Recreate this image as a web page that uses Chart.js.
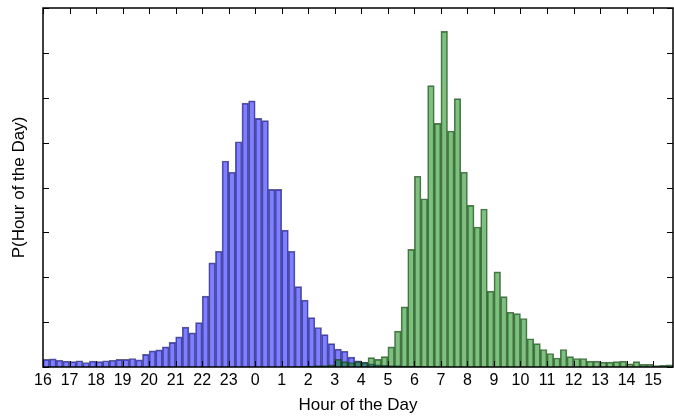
<!DOCTYPE html>
<html>
<head>
<meta charset="utf-8">
<script src="https://cdn.jsdelivr.net/npm/chart.js@4/dist/chart.umd.min.js"></script>
<style>
  html, body { margin: 0; padding: 0; background: #fff; }
  canvas { display: block; }
</style>
</head>
<body>
<canvas id="chart" width="674" height="417"></canvas>
<script>
// 15-minute bins starting at 16:00, running through 15:45 the next day
const firstHour = 16;
const binWidth = 0.25;
const hourLabels = [16, 17, 18, 19, 20, 21, 22, 23, 0, 1, 2, 3, 4, 5, 6, 7, 8, 9, 10, 11, 12, 13, 14, 15];

// blue histogram (values in % per bin)
const blueValues = [
  0.17, 0.18, 0.15, 0.13, 0.12, 0.14, 0.10, 0.13, 0.12, 0.14, 0.15, 0.17,
  0.17, 0.19, 0.16, 0.28, 0.36, 0.38, 0.45, 0.55, 0.67, 0.89, 0.76, 0.99,
  1.58, 2.32, 2.58, 4.59, 4.34, 5.02, 5.88, 5.93, 5.54, 5.49, 3.96, 3.96,
  3.05, 2.58, 1.79, 1.49, 1.10, 0.88, 0.72, 0.52, 0.40, 0.35, 0.22, 0.14,
  0.11, 0.07, 0.05, 0.04, 0.03, 0.03, 0.02, 0.02, 0.02, 0.01, 0.01, 0.01,
  0, 0, 0, 0, 0, 0, 0, 0, 0, 0, 0, 0,
  0, 0, 0, 0, 0, 0, 0, 0, 0, 0, 0, 0,
  0, 0, 0, 0, 0, 0, 0, 0, 0, 0, 0
];

// green histogram
const greenValues = [
  0, 0, 0, 0, 0, 0, 0, 0, 0, 0, 0, 0,
  0, 0, 0, 0, 0, 0, 0, 0, 0, 0, 0, 0,
  0, 0, 0, 0, 0, 0, 0, 0, 0, 0, 0, 0,
  0, 0, 0.01, 0.02, 0.02, 0.03, 0.03, 0.05, 0.17, 0.12, 0.10, 0.12,
  0.10, 0.21, 0.17, 0.23, 0.45, 0.80, 1.34, 2.62, 4.25, 3.75, 6.27, 5.43,
  7.48, 5.26, 5.98, 4.34, 3.60, 3.12, 3.52, 1.69, 2.12, 1.57, 1.22, 1.19,
  1.08, 0.63, 0.52, 0.39, 0.30, 0.20, 0.39, 0.23, 0.19, 0.19, 0.13, 0.13,
  0.11, 0.11, 0.12, 0.13, 0.07, 0.12, 0.06, 0.06, 0.03, 0.04, 0.05
];

const toPoints = (vals) => vals.map((v, i) => ({ x: firstHour + (i + 0.5) * binWidth, y: v }));

// box frame with inward tick marks on all four sides
const frameTicks = {
  id: 'frameTicks',
  afterDatasetsDraw(chart) {
    const { ctx, chartArea: a, scales: { x, y } } = chart;
    const len = 6;
    ctx.save();
    ctx.strokeStyle = '#000';
    ctx.lineWidth = 1;
    ctx.beginPath();
    x.ticks.forEach(t => {
      const px = Math.round(x.getPixelForValue(t.value)) + 0.5;
      ctx.moveTo(px, a.bottom); ctx.lineTo(px, a.bottom - len);
      ctx.moveTo(px, a.top); ctx.lineTo(px, a.top + len);
    });
    y.ticks.forEach(t => {
      const py = Math.round(y.getPixelForValue(t.value)) + 0.5;
      ctx.moveTo(a.left, py); ctx.lineTo(a.left + len, py);
      ctx.moveTo(a.right, py); ctx.lineTo(a.right - len, py);
    });
    ctx.stroke();
    ctx.lineWidth = 1.5;
    ctx.strokeRect(a.left, a.top, a.right - a.left, a.bottom - a.top);
    ctx.restore();
  }
};

const font = 'Liberation Sans, Arial, Helvetica, sans-serif';

new Chart(document.getElementById('chart'), {
  type: 'bar',
  data: {
    datasets: [{
      label: 'evening',
      data: toPoints(blueValues),
      backgroundColor: 'rgba(0,0,255,0.5)',
      borderColor: 'rgba(30,30,90,0.7)',
      borderWidth: 1,
      order: 2
    }, {
      label: 'morning',
      data: toPoints(greenValues),
      backgroundColor: 'rgba(0,128,0,0.5)',
      borderColor: 'rgba(20,60,20,0.7)',
      borderWidth: 1,
      order: 1
    }]
  },
  options: {
    responsive: false,
    animation: false,
    layout: { padding: { top: 8, right: 1, left: 0, bottom: 0 } },
    datasets: {
      bar: { grouped: false, barPercentage: 1, categoryPercentage: 1 }
    },
    plugins: {
      legend: { display: false },
      tooltip: { enabled: false }
    },
    scales: {
      x: {
        type: 'linear',
        min: 16,
        max: 39.75,
        offset: false,
        grid: { display: false, drawTicks: false },
        border: { display: false },
        afterFit: (s) => { s.height = 50; },
        ticks: {
          stepSize: 1,
          includeBounds: false,
          autoSkip: false,
          maxRotation: 0,
          padding: 4,
          color: '#000',
          font: { family: font, size: 16 },
          callback: (v) => hourLabels[v - firstHour]
        },
        title: {
          display: true,
          text: 'Hour of the Day',
          color: '#000',
          font: { family: font, size: 17 },
          padding: { top: 0, bottom: 1 }
        }
      },
      y: {
        min: 0,
        max: 8,
        grid: { display: false, drawTicks: false },
        border: { display: false },
        afterFit: (s) => { s.width = 43; },
        ticks: { display: false, stepSize: 1 },
        title: {
          display: true,
          text: 'P(Hour of the Day)',
          color: '#000',
          font: { family: font, size: 17 },
          padding: { top: 9, bottom: 0 }
        }
      }
    }
  },
  plugins: [frameTicks]
});
</script>
</body>
</html>
